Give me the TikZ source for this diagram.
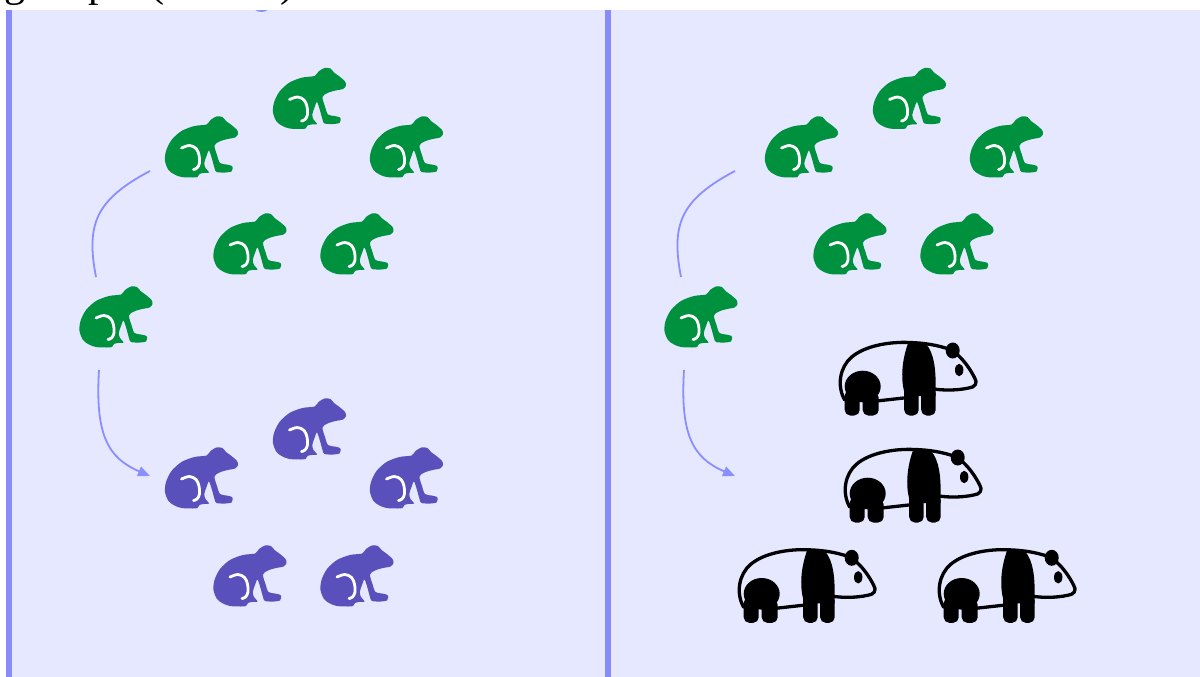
\documentclass[tikz,border=0pt]{standalone}
\usepackage{fontspec}
\setmainfont{Liberation Serif}
\usetikzlibrary{arrows.meta}

\definecolor{panelbg}{HTML}{E6E8FF}
\definecolor{railblue}{HTML}{888CFA}
\definecolor{linkblue}{HTML}{8A8EFF}
\definecolor{frogleaf}{HTML}{00913F}
\definecolor{frogplum}{HTML}{5A50BC}

\tikzset{
  iconbox/.style={inner sep=0pt, minimum width=74pt, minimum height=62pt},
  pandabox/.style={inner sep=0pt, minimum width=142pt, minimum height=80pt},
  linkline/.style={draw=linkblue, line width=1.8pt},
  linkarrow/.style={linkline, -{Triangle[length=12pt,width=10pt]}},
  frog/.pic={
    \fill[pic actions] plot[smooth cycle, tension=0.5] coordinates {
      (-33,23) (-36.5,14) (-35.5,4) (-30,-7) (-20,-16) (-7,-21) (5,-22.5)
      (9,-27) (15,-30.5) (21,-30) (24.5,-26)
      (30,-22) (35.5,-17) (36.5,-13) (33.5,-9.5) (26,-8)
      (18,-5.5) (13,-1.5)
      (15.5,8) (18.5,16)
      (25,17.5) (30.5,19) (31,22) (30,24.5) (24,25.5) (15,25)
      (13,21) (10.5,12) (7.5,3.5)
      (5,9) (2.8,16) (4,21) (7.5,25.5) (2,26) (-2,27) (-4,30)
      (-9,30.5) (-20,30) (-27,27.5)
    };
    \draw[white, line width=2.8pt, line cap=round] plot[smooth, tension=0.6]
      coordinates {(-20,1) (-12,-1.5) (-5.5,1.5) (-2.5,8) (-2,16) (-4.5,21) (-8,22.5)};
  },
  panda/.pic={
    \begin{scope}[line width=3.3pt, line cap=round, line join=round]
      % back and rump
      \draw (-62,20) .. controls (-70,6) and (-67,-13) .. (-55,-23)
            .. controls (-42,-34) and (-18,-38.5) .. (3,-37.5)
            .. controls (18,-37) and (30,-35) .. (42,-31);
      % face
      \draw (50,-26) .. controls (58,-19) and (64,-10) .. (68,-2)
            .. controls (71.5,3) and (68,7.5) .. (62,8)
            .. controls (50,10.5) and (38,10.5) .. (27,9);
      % belly
      \draw (-30,21) -- (-3,18);
    \end{scope}
    % shoulder band
    \fill (2,-38.5) .. controls (-5,-20) and (-6,-2) .. (-2.5,12) -- (-2.5,16)
          -- (29,16) -- (29,8) .. controls (29,-10) and (28,-26) .. (19,-36.5) -- cycle;
    % front legs
    \fill[rounded corners=5.5pt] (-2.5,8) rectangle (12,35.5);
    \fill[rounded corners=5.5pt] (14.5,8) rectangle (29,35.5);
    % hindquarter patch and hind legs
    \fill (-44,6.5) ellipse [x radius=18, y radius=15.8];
    \fill[rounded corners=5.5pt] (-62,10) rectangle (-47,35.5);
    \fill[rounded corners=5.5pt] (-44,12) rectangle (-28,35.5);
    % ear and eye
    \fill (46,-29.5) ellipse [x radius=7, y radius=8];
    \fill (52.5,-10) ellipse [x radius=4.2, y radius=6.2];
  },
}

\newcommand\frogat[3]{\node[iconbox] (#1) at (#2) {}; \pic[fill=#3] at (#1) {frog};}
\newcommand\pandaat[2]{\node[pandabox] (#1) at (#2) {}; \pic at (#1) {panda};}

\begin{document}
\begin{tikzpicture}[x=1pt, y=-1pt]
  \useasboundingbox (0,0) rectangle (1200,677);
  \fill[white] (0,0) rectangle (1200,677);

  % two panels with a rail on the left of each
  \fill[panelbg] (12,10) rectangle (605,677);
  \fill[panelbg] (611,10) rectangle (1200,677);
  \fill[railblue] (6,10) rectangle (12,677);
  \fill[railblue] (605,10) rectangle (611,677);

  % heading strip above the panels
  \fill[linkblue] (261.5,4) ellipse [x radius=9.5, y radius=8];
  \fill[white] (0,0) rectangle (1200,10);
  \node[anchor=base west, inner sep=0pt, font=\fontsize{42}{50}\selectfont]
    (heading) at (-17,-3) {ng on pair\kern-14pt\ (chosen)};

  % left panel: green frogs
  \frogat{lg1}{309.5,98.5}{frogleaf}
  \frogat{lg2}{201.5,147}{frogleaf}
  \frogat{lg3}{406.5,147}{frogleaf}
  \frogat{lg4}{250,244}{frogleaf}
  \frogat{lg5}{357,244}{frogleaf}
  \frogat{lgx}{116,317}{frogleaf}
  % left panel: purple frogs
  \frogat{lp1}{309.5,429}{frogplum}
  \frogat{lp2}{201.5,478}{frogplum}
  \frogat{lp3}{406.5,478}{frogplum}
  \frogat{lp4}{250,576}{frogplum}
  \frogat{lp5}{357,576}{frogplum}

  % right panel: green frogs
  \frogat{rg1}{909.5,98.5}{frogleaf}
  \frogat{rg2}{801.5,147}{frogleaf}
  \frogat{rg3}{1006.5,147}{frogleaf}
  \frogat{rg4}{850,244}{frogleaf}
  \frogat{rg5}{957,244}{frogleaf}
  \frogat{rgx}{701,317}{frogleaf}
  % right panel: pandas
  \pandaat{pa1}{906.7,380}
  \pandaat{pa2}{911.7,487}
  \pandaat{pa3}{805.7,587.3}
  \pandaat{pa4}{1005.7,587.3}

  % connector ends
  \coordinate (la1) at (150,171);
  \coordinate (la2) at (96,277);
  \coordinate (la3) at (99,370);
  \coordinate (la4) at (150,476);
  \coordinate (ra1) at (735,171);
  \coordinate (ra2) at (681,277);
  \coordinate (ra3) at (684,370);
  \coordinate (ra4) at (735,476);

  % left panel connectors
  \draw[linkline] (la1) .. controls (95,200) and (86,225) .. (la2);
  \draw[linkarrow] (la3) .. controls (95,435) and (108,458) .. (la4);
  % right panel connectors
  \draw[linkline] (ra1) .. controls (680,200) and (671,225) .. (ra2);
  \draw[linkarrow] (ra3) .. controls (680,435) and (693,458) .. (ra4);
\end{tikzpicture}
\end{document}
